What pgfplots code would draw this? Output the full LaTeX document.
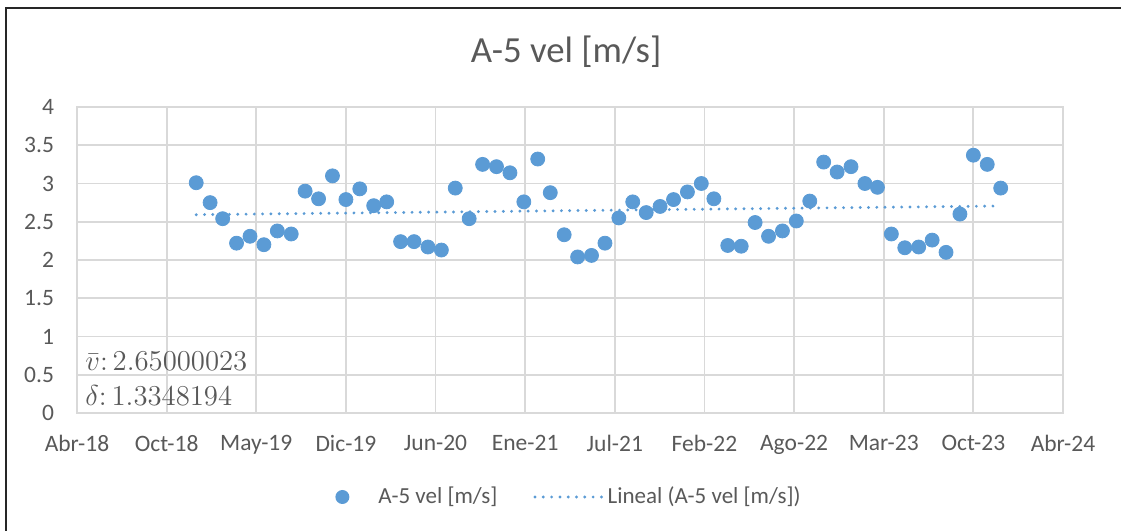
\documentclass[border=0pt]{standalone}
\usepackage{fontspec}
\setmainfont{Carlito}
\usepackage{pgfplots}
\usepackage{pgfplotstable}
\pgfplotsset{compat=1.18}
\definecolor{ser}{RGB}{91,155,213}
\definecolor{txt}{RGB}{89,89,89}
\definecolor{grd}{RGB}{217,217,217}

% x = days since 10-Apr-2018 (Excel serial 43200); one value per month, Jan 2019 - Dec 2023
\pgfplotstableread{
x y
266 3.01
297 2.75
325 2.54
356 2.22
386 2.31
417 2.20
447 2.38
478 2.34
509 2.90
539 2.80
570 3.10
600 2.79
631 2.93
662 2.71
691 2.76
722 2.24
752 2.24
783 2.17
813 2.13
844 2.94
875 2.54
905 3.25
936 3.22
966 3.14
997 2.76
1028 3.32
1056 2.88
1087 2.33
1117 2.04
1148 2.06
1178 2.22
1209 2.55
1240 2.76
1270 2.62
1301 2.70
1331 2.79
1362 2.89
1393 3.00
1421 2.80
1452 2.19
1482 2.18
1513 2.49
1543 2.31
1574 2.38
1605 2.51
1635 2.77
1666 3.28
1696 3.15
1727 3.22
1758 3.00
1786 2.95
1817 2.34
1847 2.16
1878 2.17
1908 2.26
1939 2.10
1970 2.60
2000 3.37
2031 3.25
2061 2.94
}\datatable
\pgfplotstablecreatecol[linear regression={x=x,y=y}]{trend}\datatable

\begin{document}
\begin{tikzpicture}
\useasboundingbox (0,0) rectangle (560.5pt,265.5pt);
\draw[black!85, line width=0.75pt] (3pt,0) -- (3pt,261.5pt) -- (560.5pt,261.5pt);
\node[text=txt, font=\fontsize{18.4}{22}\selectfont] at (283pt,239.5pt) {A-5 vel [m/s]};
\begin{axis}[
  at={(38.5pt,59pt)}, anchor=south west,
  scale only axis, width=493pt, height=153pt,
  xmin=0, xmax=2200, ymin=0, ymax=4,
  xtick={0,200,400,600,800,1000,1200,1400,1600,1800,2000,2200},
  xticklabels={Abr-18,Oct-18,May-19,Dic-19,Jun-20,Ene-21,Jul-21,Feb-22,Ago-22,Mar-23,Oct-23,Abr-24},
  ytick={0,0.5,1,1.5,2,2.5,3,3.5,4},
  yticklabels={0,0.5,1,1.5,2,2.5,3,3.5,4},
  /pgf/number format/assume math mode=true,
  major tick length=0pt,
  grid=major,
  major grid style={grd, line width=0.9pt},
  axis line style={grd, line width=0.9pt},
  tick label style={text=txt, font=\fontsize{11.75}{14}\selectfont},
  xticklabel style={yshift=-7.5pt},
  yticklabel style={xshift=-8pt},
  legend columns=2,
  legend style={at={(0.5,-0.2745)}, anchor=center, draw=none, fill=none,
    text=txt, font=\fontsize{11.5}{14}\selectfont,
    /tikz/every even column/.append style={column sep=16pt}},
]
\addplot[only marks, mark=*, mark size=3.5pt, color=ser, mark options={fill=ser, draw=ser},
  legend image code/.code={\fill[ser, draw=none] (0pt,0pt) circle (3.5pt); \path[draw=none, fill=none] (-3.5pt,0pt) -- (16pt,0pt);}]
  table[x=x,y=y]{\datatable};
\addlegendentry{A-5 vel [m/s]}
\addplot[ser, line width=1.6pt, line cap=round, dash pattern=on 0pt off 4.15pt, no marks,
  legend image code/.code={\draw[ser, line width=1.6pt, line cap=round, dash pattern=on 0pt off 4.15pt] (0pt,0pt) -- (33.5pt,0pt);}]
  table[x=x,y=trend]{\datatable};
\addlegendentry{Lineal (A-5 vel [m/s])}
\end{axis}
\node[anchor=west, text=txt, inner sep=0pt, font=\fontsize{14.5}{16}\selectfont] at (42.5pt,85pt) {$\bar{v}{:}\,2.65000023$};
\node[anchor=west, text=txt, inner sep=0pt, font=\fontsize{14.5}{16}\selectfont] at (42.5pt,67.6pt) {$\delta{:}\,1.3348194$};
\end{tikzpicture}
\end{document}
